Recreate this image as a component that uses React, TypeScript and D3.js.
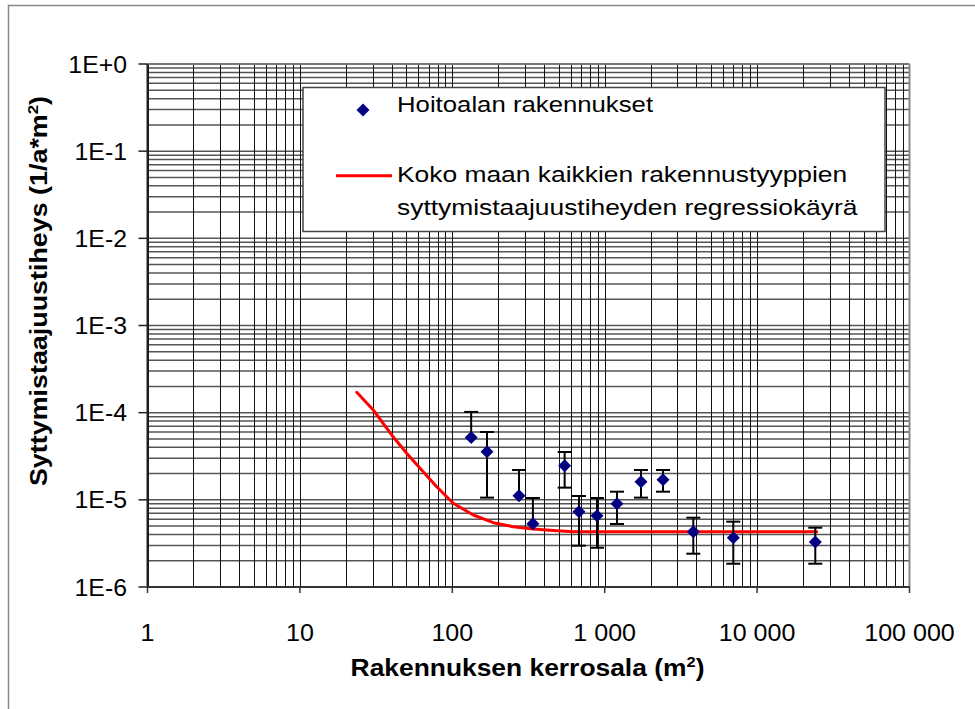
import React from "react";
import * as d3 from "d3";

// Building floor area (m²) for each group of care-sector buildings
const areaM2 = [133, 169, 274, 338, 546, 678, 890, 1204, 1730, 2413, 3814, 6979, 24090];
// Ignition frequency (1/a·m²)
const frequency = [5.19e-5, 3.57e-5, 1.115e-5, 5.32e-6, 2.46e-5, 7.31e-6, 6.58e-6, 9.03e-6, 1.615e-5, 1.7e-5, 4.31e-6, 3.68e-6, 3.28e-6];
// Error bar limits (null = lower limit not shown on the log scale)
const upperLimit = [1.02e-4, 6.0e-5, 2.2e-5, 1.05e-5, 3.54e-5, 1.107e-5, 1.05e-5, 1.24e-5, 2.2e-5, 2.2e-5, 6.24e-6, 5.62e-6, 4.79e-6];
const lowerLimit: (number | null)[] = [null, 1.06e-5, null, null, 1.38e-5, 2.98e-6, 2.82e-6, 5.28e-6, 1.06e-5, 1.24e-5, 2.41e-6, 1.85e-6, 1.85e-6];

// Nationwide regression curve over all building types
const curveArea = [23.6, 30.3, 40.0, 50.2, 61.4, 79.0, 101.5, 137.3, 185.8, 251.3, 340.1, 459.8, 622.3, 24600];
const curveFreq = [1.713e-4, 1.073e-4, 5.55e-5, 3.42e-5, 2.3e-5, 1.415e-5, 9.13e-6, 6.7e-6, 5.47e-6, 4.92e-6, 4.63e-6, 4.45e-6, 4.31e-6, 4.31e-6];

const xTickValues = [1, 10, 100, 1000, 10000, 100000];
const xTickLabels = ["1", "10", "100", "1 000", "10 000", "100 000"];
const yTickValues = [1, 1e-1, 1e-2, 1e-3, 1e-4, 1e-5, 1e-6];
const yTickLabels = ["1E+0", "1E-1", "1E-2", "1E-3", "1E-4", "1E-5", "1E-6"];

const seriesName = "Hoitoalan rakennukset";
const curveNameLines = ["Koko maan kaikkien rakennustyyppien", "syttymistaajuustiheyden regressiokäyrä"];

const W = 975;
const H = 709;
const FONT = "'Liberation Sans', Arial, sans-serif";

const x = d3.scaleLog().domain([1, 1e5]).range([147.5, 909.5]);
const y = d3.scaleLog().domain([1e-6, 1]).range([587, 64]);

function STxt(props: {
  x: number; y: number; sx?: number; rotate?: number; size: number; bold?: boolean;
  anchor?: "start" | "middle" | "end"; children: React.ReactNode;
}) {
  const { sx = 1, rotate } = props;
  const t = `translate(${props.x},${props.y})${rotate ? ` rotate(${rotate})` : ""} scale(${sx},1)`;
  return (
    <text
      transform={t}
      textAnchor={props.anchor || "start"}
      fontFamily={FONT}
      fontSize={props.size}
      fontWeight={props.bold ? "bold" : "normal"}
      fill="#000"
    >
      {props.children}
    </text>
  );
}

function diamondPath(cx: number, cy: number, r: number) {
  return `M${cx},${cy - r}L${cx + r},${cy}L${cx},${cy + r}L${cx - r},${cy}Z`;
}

export default function App() {
  const [x0, x1] = x.range();
  const [y0, y1] = y.range();

  const vGrid: number[] = [];
  for (let d = 0; d < 5; d++) for (let k = 1; k <= 9; k++) vGrid.push(k * Math.pow(10, d));
  const hGrid: number[] = [];
  for (let d = -6; d < 0; d++) for (let k = 1; k <= 9; k++) hGrid.push(k * Math.pow(10, d));

  const line = d3
    .line<number>()
    .x((i) => x(curveArea[i]))
    .y((i) => y(curveFreq[i]));

  return (
    <svg
      width={W}
      height={H}
      viewBox={`0 0 ${W} ${H}`}
      style={{ position: "absolute", left: 0, top: 0, background: "#fff" }}
    >
      <rect x={8.5} y={5.5} width={1000} height={1000} fill="#fff" stroke="#888" strokeWidth={1.5} />

      {/* gridlines */}
      {hGrid.map((v, i) => (
        <line key={"h" + i} x1={x0} x2={x1} y1={y(v)} y2={y(v)} stroke="#555" strokeWidth={1.5} />
      ))}
      {vGrid.map((v, i) => (
        <line key={"v" + i} x1={Math.round(x(v)) + 0.5} x2={Math.round(x(v)) + 0.5} y1={y1} y2={y0} stroke="#111" strokeWidth={1} />
      ))}
      <line x1={x0} x2={x1} y1={y1} y2={y1} stroke="#777" strokeWidth={2} />
      <line x1={x1} x2={x1} y1={y1} y2={y0} stroke="#888" strokeWidth={2} />

      {/* legend */}
      <rect x={303} y={87.5} width={582} height={144} fill="#fff" stroke="#444" strokeWidth={1.5} />
      <path d={diamondPath(363, 110, 6.5)} fill="#000080" />
      <STxt x={397} y={112} size={22} sx={1.17}>{seriesName}</STxt>
      <line x1={336} x2={392} y1={175.7} y2={175.7} stroke="#ff0000" strokeWidth={3} />
      <STxt x={397} y={181.5} size={22} sx={1.2}>{curveNameLines[0]}</STxt>
      <STxt x={397} y={215} size={22} sx={1.2}>{curveNameLines[1]}</STxt>

      {/* regression curve */}
      <path
        d={line(d3.range(curveArea.length)) || ""}
        fill="none"
        stroke="#ff0000"
        strokeWidth={3}
        strokeLinejoin="round"
        strokeLinecap="round"
      />

      {/* error bars */}
      {areaM2.map((a, i) => {
        const cx = x(a);
        const top = y(upperLimit[i]);
        const lo = lowerLimit[i];
        const bottom = lo == null ? y(frequency[i]) : y(lo);
        return (
          <g key={"e" + i} stroke="#000" strokeWidth={2}>
            <line x1={cx} x2={cx} y1={top} y2={bottom} />
            <line x1={cx - 7} x2={cx + 7} y1={top} y2={top} />
            {lo != null && <line x1={cx - 7} x2={cx + 7} y1={bottom} y2={bottom} />}
          </g>
        );
      })}

      {/* markers */}
      {areaM2.map((a, i) => (
        <path key={"m" + i} d={diamondPath(x(a), y(frequency[i]), 6.5)} fill="#000080" />
      ))}

      {/* axes */}
      <line x1={x0} x2={x0} y1={y1} y2={y0} stroke="#222" strokeWidth={2} />
      <line x1={x0} x2={x1} y1={y0} y2={y0} stroke="#333" strokeWidth={2} />
      {yTickValues.map((v, i) => (
        <g key={"yt" + i}>
          <line x1={x0 - 9} x2={x0} y1={y(v)} y2={y(v)} stroke="#222" strokeWidth={1.5} />
          <STxt x={127} y={y(v) + 8.5} size={23} sx={1.08} anchor="end">{yTickLabels[i]}</STxt>
        </g>
      ))}
      {xTickValues.map((v, i) => (
        <g key={"xt" + i}>
          <line x1={x(v)} x2={x(v)} y1={y0} y2={y0 + 6} stroke="#333" strokeWidth={1.5} />
          <STxt x={x(v)} y={641} size={23} sx={1.09} anchor="middle">{xTickLabels[i]}</STxt>
        </g>
      ))}

      {/* axis titles */}
      <STxt x={527.5} y={676} size={24} sx={1.1} bold anchor="middle">
        Rakennuksen kerrosala (m<tspan dy={-9} fontSize={15}>2</tspan><tspan dy={9}>)</tspan>
      </STxt>
      <STxt x={47} y={291} size={24} sx={1.12} rotate={-90} bold anchor="middle">
        Syttymistaajuustiheys (1/a*m<tspan dy={-9} fontSize={15}>2</tspan><tspan dy={9}>)</tspan>
      </STxt>
    </svg>
  );
}
